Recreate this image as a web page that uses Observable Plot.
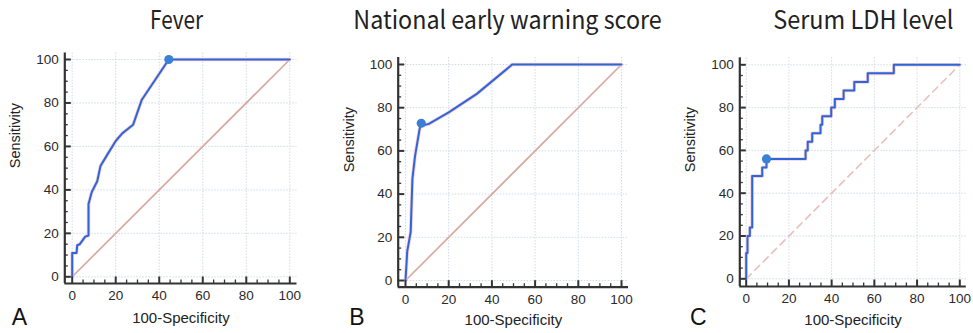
<!DOCTYPE html>
<html>
<head>
<meta charset="utf-8">
<script src="https://cdn.jsdelivr.net/npm/d3@7"></script>
<script src="https://cdn.jsdelivr.net/npm/@observablehq/plot@0.6"></script>
<style>
  html, body { margin: 0; padding: 0; background: #fff; }
  #wrap { position: relative; width: 973px; height: 333px; overflow: hidden; background: #fff; }
  #wrap svg { position: absolute; top: 0; }
  #wrap svg.panel text { font-family: "Liberation Sans", Arial, sans-serif; }
</style>
</head>
<body>
<div id="wrap"></div>
<script>
// ---- data ----
const titles = ["Fever", "National early warning score", "Serum LDH level"];
const letters = ["A", "B", "C"];
const xLabel = "100-Specificity";
const yLabel = "Sensitivity";
const majorTicks = [0, 20, 40, 60, 80, 100];
const minorTicks = [5, 10, 15, 25, 30, 35, 45, 50, 55, 65, 70, 75, 85, 90, 95];

// Panel A: Fever
const feverFpr  = [0, 0, 2, 2.3, 3.5, 6, 7.5, 7.5, 9, 11.5, 13, 16, 20, 23, 28, 32, 44.4, 100];
const feverSens = [0, 11, 11, 14.5, 15, 18.5, 19, 33.5, 39, 44, 51, 56, 62.5, 66, 70, 81.5, 100, 100];
const feverCut  = [44.4, 100];

// Panel B: National early warning score
const newsFpr  = [0, 0.8, 2.4, 3.2, 4.4, 6.5, 7.3, 8.8, 10.8, 20, 33, 49.4, 100];
const newsSens = [0, 13.5, 22.4, 47, 57.5, 70, 72.8, 72, 72.5, 77.8, 86.4, 100, 100];
const newsCut  = [7.3, 72.8];

// Panel C: Serum LDH level (step corners)
const ldhFpr  = [0, 0, 0.6, 1.7, 2.8, 7.5, 9.5, 27.8, 28.8, 30.9, 34.8, 35.6, 39.8, 41.5, 45.6, 50.6, 56.9, 69.1, 100];
const ldhSens = [0, 12, 20, 24, 48, 52, 56, 60, 64, 68, 72, 76, 80, 84, 88, 92, 96, 100, 100];
const ldhCut  = [9.5, 56];

const diagonal = [[0, 0], [100, 100]];

const H = 333;
const panels = [
  {left: 0,   width: 310, mL: 64.3, mR: 13.5, mT: 52.5, mB: 50,  iL: 7.4, iR: 7.2, iT: 6.5, iB: 6.7,
   fpr: feverFpr, sens: feverSens, cut: feverCut, curve: "linear", dashed: false, xlDy: 39.5, letterDx: -53, letterDy: 41.5},
  {left: 320, width: 320, mL: 77.7, mR: 12,   mT: 57,   mB: 46.3, iL: 7.3, iR: 7,   iT: 7,   iB: 6.7,
   fpr: newsFpr, sens: newsSens, cut: newsCut, curve: "linear", dashed: false, xlDy: 38, letterDx: -49, letterDy: 37.5},
  {left: 650, width: 323, mL: 89.3, mR: 7.2,  mT: 57.3, mB: 47,  iL: 6.4, iR: 6.5, iT: 7,   iB: 7.7,
   fpr: ldhFpr, sens: ldhSens, cut: ldhCut, curve: "step-after", dashed: true, xlDy: 38.5, letterDx: -49.8, letterDy: 38.5}
];

const wrap = document.getElementById("wrap");

panels.forEach((p, idx) => {
  const data = p.fpr.map((x, i) => ({x, y: p.sens[i]}));
  const frameW = p.width - p.mL - p.mR;
  const frameH = H - p.mT - p.mB;
  const axisColor = "#333";
  const chart = Plot.plot({
    width: p.width,
    height: H,
    marginLeft: p.mL, marginRight: p.mR, marginTop: p.mT, marginBottom: p.mB,
    style: {fontFamily: "'Liberation Sans', Arial, sans-serif", fontSize: "13.5px", color: "#2a2a2a", background: "transparent", overflow: "visible"},
    x: {domain: [0, 100], insetLeft: p.iL, insetRight: p.iR, ticks: majorTicks, tickSize: 0, tickPadding: 7, label: null},
    y: {domain: [0, 100], insetTop: p.iT, insetBottom: p.iB, ticks: majorTicks, tickSize: 0, tickPadding: 6, label: null},
    marks: [
      Plot.ruleX(majorTicks, {stroke: "#cfdbe7", strokeWidth: 1, strokeDasharray: "1.5,1.5"}),
      Plot.ruleY(majorTicks, {stroke: "#cfdbe7", strokeWidth: 1, strokeDasharray: "1.5,1.5"}),
      Plot.line(diagonal, {stroke: p.dashed ? "#e8c0bc" : "#d8a89c", strokeWidth: 1.6, strokeDasharray: p.dashed ? "7,5" : null}),
      Plot.line(data, {x: "x", y: "y", stroke: "#f6cfd8", strokeWidth: 3.6, curve: p.curve}),
      Plot.line(data, {x: "x", y: "y", stroke: "#2d66d6", strokeWidth: 2, curve: p.curve}),
      Plot.dot([p.cut], {x: d => d[0], y: d => d[1], r: 4.6, fill: "#3b80d6", stroke: "none"}),
      // ticks pointing inward
      Plot.ruleX(minorTicks, {insetTop: frameH - 3.5, stroke: axisColor, strokeWidth: 1.3}),
      Plot.ruleX(majorTicks, {insetTop: frameH - 6.5, stroke: axisColor, strokeWidth: 2}),
      Plot.ruleY(minorTicks, {insetRight: frameW - 3.5, stroke: axisColor, strokeWidth: 1.3}),
      Plot.ruleY(majorTicks, {insetRight: frameW - 6.5, stroke: axisColor, strokeWidth: 2}),
      // axis lines at frame edges
      Plot.ruleX([0], {dx: -p.iL, stroke: axisColor, strokeWidth: 2.2}),
      Plot.ruleY([0], {dy: p.iB, stroke: axisColor, strokeWidth: 2.2}),
      Plot.text([xLabel], {frameAnchor: "bottom", dy: p.xlDy, lineAnchor: "bottom", fontSize: 15, fill: "#222"}),
      Plot.text([yLabel], {frameAnchor: "left", rotate: -90, dx: -49, fontSize: 14.5, fill: "#222"}),
      Plot.text([letters[idx]], {frameAnchor: "bottom-left", dx: p.letterDx, dy: p.letterDy, lineAnchor: "bottom", textAnchor: "start", fontSize: 23, fill: "#111"})
    ]
  });
  chart.classList.add("panel");
  chart.style.left = p.left + "px";
  wrap.appendChild(chart);
});

// titles overlay
const tsvg = d3.create("svg").attr("width", 973).attr("height", 45).style("left", "0px");
const titlePos = [{x: 150, len: 53}, {x: 353.3, len: 308.4}, {x: 773.3, len: 180}];
titles.forEach((t, i) => {
  tsvg.append("text")
    .attr("x", titlePos[i].x).attr("y", 29.3)
    .attr("textLength", titlePos[i].len).attr("lengthAdjust", "spacingAndGlyphs")
    .attr("font-family", "'Noto Sans CJK KR', 'Noto Sans', sans-serif")
    .attr("font-size", 25).attr("fill", "#222")
    .text(t);
});
wrap.appendChild(tsvg.node());
</script>
</body>
</html>
